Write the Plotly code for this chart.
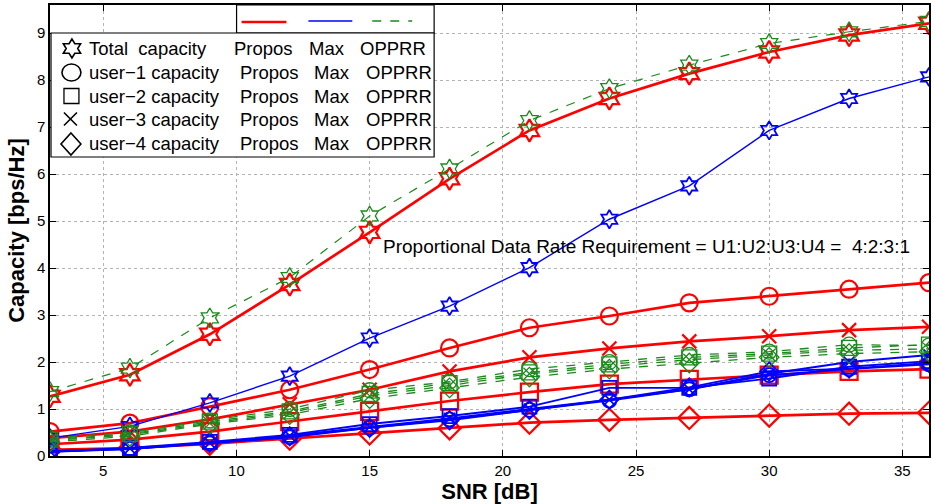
import math
import plotly.graph_objects as go

# ---------------- data ----------------
snr = [3, 6, 9, 12, 15, 18, 21, 24, 27, 30, 33, 36]

# Propos (red, solid)
propos_total = [1.27, 1.73, 2.59, 3.65, 4.76, 5.90, 6.93, 7.61, 8.14, 8.60, 8.96, 9.21]
propos_u1 = [0.52, 0.70, 1.05, 1.41, 1.84, 2.30, 2.73, 2.98, 3.26, 3.40, 3.55, 3.69]
propos_u2 = [0.25, 0.35, 0.52, 0.73, 0.95, 1.17, 1.36, 1.53, 1.63, 1.72, 1.80, 1.85]
propos_u3 = [0.38, 0.52, 0.78, 1.10, 1.41, 1.80, 2.10, 2.29, 2.44, 2.55, 2.68, 2.75]
propos_u4 = [0.13, 0.17, 0.26, 0.37, 0.48, 0.59, 0.71, 0.77, 0.81, 0.86, 0.90, 0.92]

# Max (blue, solid)
max_total = [0.38, 0.63, 1.13, 1.70, 2.51, 3.19, 4.01, 5.04, 5.75, 6.93, 7.61, 8.07]
max_u1 = [0.10, 0.15, 0.27, 0.40, 0.60, 0.78, 0.98, 1.18, 1.42, 1.72, 1.85, 1.95]
max_u2 = [0.09, 0.17, 0.30, 0.45, 0.68, 0.85, 1.05, 1.45, 1.45, 1.65, 1.90, 2.02]
max_u3 = [0.10, 0.16, 0.28, 0.43, 0.62, 0.80, 1.00, 1.20, 1.42, 1.75, 2.00, 2.15]
max_u4 = [0.09, 0.15, 0.28, 0.42, 0.60, 0.76, 0.98, 1.20, 1.46, 1.80, 1.86, 1.98]

# OPPRR (green, dashed)
opprr_total = [1.37, 1.87, 2.94, 3.80, 5.11, 6.11, 7.14, 7.82, 8.32, 8.78, 9.03, 9.25]
opprr_u1 = [0.38, 0.50, 0.76, 1.00, 1.40, 1.58, 1.85, 2.00, 2.15, 2.22, 2.37, 2.35]
opprr_u2 = [0.35, 0.47, 0.73, 0.95, 1.32, 1.55, 1.78, 1.95, 2.10, 2.18, 2.30, 2.37]
opprr_u3 = [0.33, 0.45, 0.70, 0.92, 1.28, 1.50, 1.75, 1.90, 2.05, 2.15, 2.25, 2.28]
opprr_u4 = [0.30, 0.42, 0.68, 0.88, 1.22, 1.45, 1.68, 1.85, 1.98, 2.10, 2.18, 2.22]

x_ticks = [5, 10, 15, 20, 25, 30, 35]
y_ticks = [0, 1, 2, 3, 4, 5, 6, 7, 8, 9]

legend_rows = ["Total  capacity", "user\u22121 capacity", "user\u22122 capacity",
               "user\u22123 capacity", "user\u22124 capacity"]
legend_methods = ["Propos", "Max", "OPPRR"]
annotation_text = "Proportional Data Rate Requirement = U1:U2:U3:U4 =  4:2:3:1"

# ---------------- styling ----------------
W, H = 934, 504
ML, MR, MT, MB = 50, 3, 5, 48
PW, PH = W - ML - MR, H - MT - MB
FONT = "Liberation Sans, Arial, Helvetica"


def px(xp):
    return (xp - ML) / PW


def py(yp):
    return (H - MB - yp) / PH


symbols = ["hexagram-open", "circle-open", "square-open", "x-thin-open", "diamond-open"]

groups = [
    dict(name="Propos", color="#ff0000", width=2.7, dash="solid", msize=17, mlw=2.2,
         series=[propos_total, propos_u1, propos_u2, propos_u3, propos_u4]),
    dict(name="Max", color="#0000ff", width=1.9, dash="solid", msize=14, mlw=1.8,
         series=[max_total, max_u1, max_u2, max_u3, max_u4]),
    dict(name="OPPRR", color="#1a8a1a", width=1.3, dash="dash", msize=15, mlw=1.3,
         series=[opprr_total, opprr_u1, opprr_u2, opprr_u3, opprr_u4]),
]

fig = go.Figure()
for g in groups:
    for i, (ys, sym) in enumerate(zip(g["series"], symbols)):
        lw = g["width"]
        if g["name"] == "Max" and i == 0:
            lw = 1.4
        if g["name"] == "OPPRR" and i == 0:
            lw = 1.2
        fig.add_trace(go.Scatter(
            x=snr, y=ys, mode="lines+markers", showlegend=False,
            line=dict(color=g["color"], width=lw, dash=g["dash"]),
            marker=dict(symbol=sym, size=g["msize"] if sym != "x-thin-open" else g["msize"] - 3,
                        color=g["color"],
                        line=dict(color=g["color"], width=g["mlw"])),
            name=f"{g['name']} {i}",
        ))

axis_common = dict(showline=True, linecolor="black", linewidth=1.5, mirror="ticks",
                   ticks="inside", ticklen=6, tickwidth=1, tickcolor="black",
                   showgrid=True, gridcolor="#b3b3b3", griddash="dot", gridwidth=1,
                   zeroline=False, tickfont=dict(family=FONT, size=15, color="black"))

fig.update_layout(
    width=W, height=H,
    margin=dict(l=ML, r=MR, t=MT, b=MB),
    paper_bgcolor="white", plot_bgcolor="white",
    xaxis=dict(range=[3, 36], tickvals=x_ticks,
               title=dict(text="<b>SNR [dB]</b>", standoff=2,
                          font=dict(family=FONT, size=22, color="black")),
               **axis_common),
    yaxis=dict(range=[0, 9.6], tickvals=y_ticks,
               title=dict(text="<b>Capacity [bps/Hz]</b>", standoff=6,
                          font=dict(family=FONT, size=22, color="black")),
               **axis_common),
)

# ---------------- legend (drawn manually like the MATLAB one) ----------------
shapes = []
# top box with line samples
shapes.append(dict(type="rect", xref="paper", yref="paper", x0=px(237), x1=px(435), y0=py(33), y1=py(5),
                   line=dict(color="black", width=1.2), fillcolor="white", layer="above"))
shapes.append(dict(type="line", xref="paper", yref="paper", x0=px(242), x1=px(287), y0=py(22), y1=py(22),
                   line=dict(color="#ff0000", width=2.7), layer="above"))
shapes.append(dict(type="line", xref="paper", yref="paper", x0=px(309), x1=px(353), y0=py(21), y1=py(21),
                   line=dict(color="#0000ff", width=1.6), layer="above"))
shapes.append(dict(type="line", xref="paper", yref="paper", x0=px(373), x1=px(413), y0=py(21), y1=py(21),
                   line=dict(color="#1a8a1a", width=1.3, dash="dash"), layer="above"))
# main box
shapes.append(dict(type="rect", xref="paper", yref="paper", x0=px(51), x1=px(435), y0=py(157), y1=py(33),
                   line=dict(color="black", width=1.2), fillcolor="white", layer="above"))


def pth(points):
    return "M " + " L ".join(f"{px(a):.5f},{py(b):.5f}" for a, b in points) + " Z"


glyph_line = dict(color="black", width=1.6)
# hexagram glyph
cx, cy, R = 72, 48.5, 9.5
pts = []
for k in range(12):
    ang = math.radians(90 + 30 * k)
    r = R if k % 2 == 0 else R / math.sqrt(3)
    pts.append((cx + 1.05 * r * math.cos(ang), cy - r * math.sin(ang)))
shapes.append(dict(type="path", xref="paper", yref="paper", path=pth(pts), line=glyph_line, layer="above"))
# circle glyph
shapes.append(dict(type="circle", xref="paper", yref="paper", x0=px(62), x1=px(81), y0=py(81), y1=py(64),
                   line=glyph_line, layer="above"))
# square glyph
shapes.append(dict(type="rect", xref="paper", yref="paper", x0=px(64), x1=px(79), y0=py(103.5), y1=py(88.5),
                   line=dict(color="black", width=1.3), layer="above"))
# x glyph
shapes.append(dict(type="path", xref="paper", yref="paper",
                   path=f"M {px(64):.5f},{py(112.5):.5f} L {px(77):.5f},{py(125.5):.5f} "
                        f"M {px(64):.5f},{py(125.5):.5f} L {px(77):.5f},{py(112.5):.5f}",
                   line=glyph_line, layer="above"))
# diamond glyph
shapes.append(dict(type="path", xref="paper", yref="paper",
                   path=pth([(71, 133), (81, 144), (71, 155), (61, 144)]), line=glyph_line, layer="above"))
fig.update_layout(shapes=shapes)

row_y = [48, 72, 96, 119, 143]
method_x = [[232, 308, 359], [238, 313, 365], [238, 313, 365], [238, 313, 365], [238, 313, 365]]
for k, (label, ry) in enumerate(zip(legend_rows, row_y)):
    fig.add_annotation(xref="paper", yref="paper", x=px(87), y=py(ry), text=label,
                       showarrow=False, xanchor="left", yanchor="middle",
                       font=dict(family=FONT, size=18.5, color="black"))
    for m, mx in zip(legend_methods, method_x[k]):
        fig.add_annotation(xref="paper", yref="paper", x=px(mx), y=py(ry), text=m,
                           showarrow=False, xanchor="left", yanchor="middle",
                           font=dict(family=FONT, size=18.5, color="black"))

fig.add_annotation(xref="paper", yref="paper", x=px(382), y=py(246), text=annotation_text,
                   showarrow=False, xanchor="left", yanchor="middle",
                   font=dict(family=FONT, size=19, color="black"))

fig.write_html("out.html")
